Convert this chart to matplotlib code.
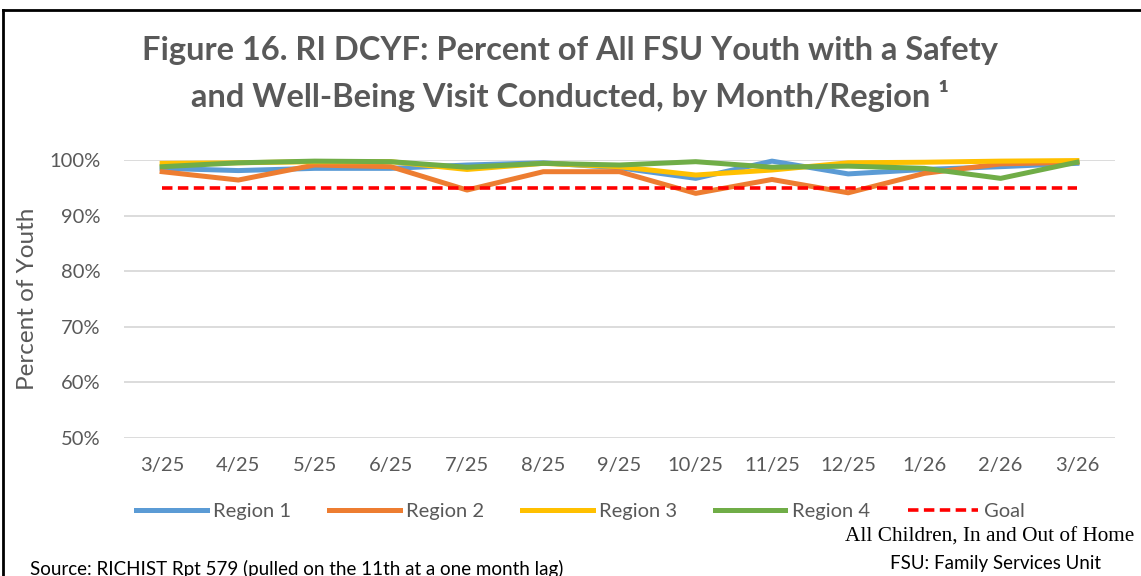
import matplotlib.pyplot as plt
from matplotlib.lines import Line2D
from matplotlib.ticker import PercentFormatter

months = ["3/25", "4/25", "5/25", "6/25", "7/25", "8/25", "9/25",
          "10/25", "11/25", "12/25", "1/26", "2/26", "3/26"]
region1 = [98.5, 98.1, 98.5, 98.5, 99.1, 99.5, 98.6, 96.7, 99.8, 97.5, 98.3, 98.8, 99.4]
region2 = [97.9, 96.4, 99.1, 98.8, 94.6, 97.9, 97.9, 94.0, 96.5, 94.1, 97.6, 99.3, 99.6]
region3 = [99.4, 99.5, 99.7, 99.7, 98.3, 99.4, 98.8, 97.3, 98.2, 99.5, 99.6, 99.8, 99.9]
region4 = [98.8, 99.5, 99.8, 99.7, 98.7, 99.4, 99.1, 99.7, 98.7, 98.9, 98.5, 96.7, 99.6]
goal = [95] * 13

gray = "#595959"
plt.rcParams["font.family"] = ["Lato", "DejaVu Sans"]

fig = plt.figure(figsize=(11.41, 5.76), dpi=100)
ax = fig.add_axes([0.1087, 0.2396, 0.8685, 0.4826])

x = list(range(len(months)))
ax.plot(x, region1, color="#5B9BD5", lw=3.6, label="Region 1", clip_on=False)
ax.plot(x, region2, color="#ED7D31", lw=3.6, label="Region 2", clip_on=False)
ax.plot(x, region3, color="#FFC000", lw=3.6, label="Region 3", clip_on=False)
ax.plot(x, region4, color="#70AD47", lw=3.6, label="Region 4", clip_on=False)
ax.plot(x, goal, color="#FF0000", lw=2.6, ls=(0, (2.9, 1.5)), label="Goal",
        dash_capstyle="butt")

ax.set_xlim(-0.5, len(months) - 0.5)
ax.set_ylim(50, 100)
ax.set_yticks([50, 60, 70, 80, 90, 100])
ax.yaxis.set_major_formatter(PercentFormatter(decimals=0))
ax.set_xticks(x)
ax.set_xticklabels(months)
ax.tick_params(length=0, colors=gray, labelsize=14.5)
ax.tick_params(axis="x", pad=14)
ax.tick_params(axis="y", pad=17)
for s in ax.spines.values():
    s.set_visible(False)
ax.grid(axis="y", color="#D9D9D9", lw=1.3)
ax.set_axisbelow(True)
ax.set_ylabel("Percent of Youth", color=gray, fontsize=17.5, labelpad=8)

fig.text(0.5, 0.913, "Figure 16. RI DCYF: Percent of All FSU Youth with a Safety",
         ha="center", va="center", fontsize=23.5, fontweight="bold", color=gray)
fig.text(0.5, 0.833, "and Well-Being Visit Conducted, by Month/Region \u00b9",
         ha="center", va="center", fontsize=23.5, fontweight="bold", color=gray)

ax.legend(loc="center", bbox_to_anchor=(0.461, -0.265), ncol=5, frameon=False,
          fontsize=14.5, labelcolor=gray, handlelength=3.5, columnspacing=1.9,
          handletextpad=0.3)

fig.text(0.994, 0.068, "All Children, In and Out of Home", ha="right", va="center",
         fontsize=15.3, family="Liberation Serif", color="black")
fig.text(0.965, 0.022, "FSU: Family Services Unit", ha="right", va="center",
         fontsize=13.5, color="black")
fig.text(0.026, 0.012, "Source: RICHIST Rpt 579 (pulled on the 11th at a one month lag)",
         ha="left", va="center", fontsize=13.5, color="black")

fig.add_artist(Line2D([0.003, 1.0], [0.983, 0.983], color="black", lw=2))
fig.add_artist(Line2D([0.003, 0.003], [0.0, 0.983], color="black", lw=2))

fig.savefig("out.png", dpi=100)
